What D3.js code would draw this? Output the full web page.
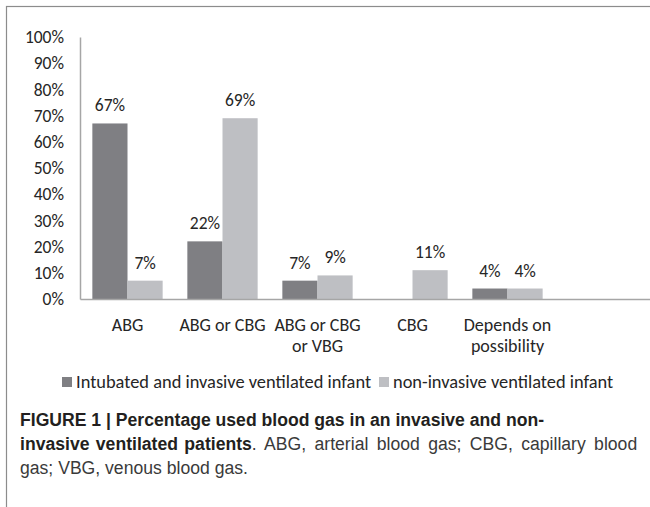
<!DOCTYPE html>
<html><head><meta charset="utf-8">
<script src="https://cdn.jsdelivr.net/npm/d3@7"></script>
<style>
html,body{margin:0;padding:0;background:#fff;}
svg{display:block;}
</style></head>
<body>
<svg id="chart" width="650" height="507"></svg>
<script>
const categories = [["ABG"], ["ABG or CBG"], ["ABG or CBG", "or VBG"], ["CBG"], ["Depends on", "possibility"], [""]];
const seriesNames = ["Intubated and invasive ventilated infant", "non-invasive ventilated infant"];
const intubated = [67, 22, 7, 0, 4, null];
const nonInvasive = [7, 69, 9, 11, 4, null];
const yTicks = [0, 10, 20, 30, 40, 50, 60, 70, 80, 90, 100];
const colors = ["#7f7f83", "#bebfc3"];

const svg = d3.select("#chart");
const chartFont = "Carlito, Lato, 'Open Sans', sans-serif";
const fs = 17.5;

// frame
svg.append("rect").attr("x", 6.5).attr("y", 6.5).attr("width", 700).attr("height", 600)
  .attr("fill", "none").attr("stroke", "#8c8c8c").attr("stroke-width", 1.2);

const x0 = d3.scaleBand().domain(d3.range(categories.length)).range([80, 650]).paddingInner(0.26).paddingOuter(0.13);
const x1 = d3.scaleBand().domain([0, 1]).range([0, x0.bandwidth()]);
const y = d3.scaleLinear().domain([0, 100]).range([299, 37]);

// y tick labels
const yAxis = d3.axisLeft(y).tickValues(yTicks).tickFormat(d => d + "%").tickSize(0).tickPadding(16);
const gy = svg.append("g").attr("transform", "translate(80,0)").call(yAxis);
gy.select(".domain").attr("stroke", "#a6a6a6").attr("stroke-width", 1.5);
gy.selectAll("text").attr("font-family", chartFont).attr("font-size", fs).attr("fill", "#262626");

// bars
const series = [intubated, nonInvasive];
series.forEach((vals, si) => {
  svg.append("g").selectAll("rect").data(vals.map((v, i) => ({v, i})).filter(d => d.v !== null))
    .join("rect")
    .attr("x", d => x0(d.i) + x1(si))
    .attr("width", x1.bandwidth())
    .attr("y", d => y(d.v))
    .attr("height", d => y(0) - y(d.v))
    .attr("fill", colors[si]);
  svg.append("g").selectAll("text").data(vals.map((v, i) => ({v, i})).filter(d => d.v))
    .join("text")
    .attr("x", d => x0(d.i) + x1(si) + x1.bandwidth() / 2)
    .attr("y", d => y(d.v) - 12)
    .attr("text-anchor", "middle")
    .attr("font-family", chartFont).attr("font-size", fs).attr("fill", "#262626")
    .text(d => d.v + "%");
});

// x axis
const xAxis = d3.axisBottom(x0).tickSize(0).tickFormat("");
const gx = svg.append("g").attr("transform", "translate(0,299)").call(xAxis);
gx.select(".domain").attr("stroke", "#a6a6a6").attr("stroke-width", 1.5);

const labels = svg.append("g").selectAll("text").data(categories.map((c, i) => ({c, i}))).join("text")
  .attr("text-anchor", "middle")
  .attr("font-family", chartFont).attr("font-size", 18).attr("fill", "#262626")
  .attr("transform", d => `translate(${x0(d.i) + x0.bandwidth() / 2},331)`);
labels.selectAll("tspan").data(d => d.c).join("tspan")
  .attr("x", 0).attr("dy", (d, k) => k === 0 ? 0 : 21).text(d => d);

// legend
const legendX = [62, 379];
seriesNames.forEach((name, i) => {
  svg.append("rect").attr("x", legendX[i]).attr("y", 377).attr("width", 10).attr("height", 10).attr("fill", colors[i]);
  svg.append("text").attr("x", legendX[i] + 14).attr("y", 388)
    .attr("font-family", chartFont).attr("font-size", 18.4).attr("fill", "#262626").text(name);
});

// caption
const capFont = "'Liberation Sans', Arial, sans-serif";
const cap = svg.append("g").attr("font-family", capFont).attr("font-size", 17.6).attr("fill", "#231f20");
cap.append("text").attr("x", 20).attr("y", 426).attr("font-weight", "bold")
  .text("FIGURE 1 | Percentage used blood gas in an invasive and non-");
const l2 = cap.append("text").attr("x", 20).attr("y", 450);
l2.append("tspan").attr("font-weight", "bold").attr("word-spacing", 1.5).text("invasive ventilated patients");
l2.append("tspan").attr("fill", "#3a3a3a").attr("word-spacing", 3.5).text(". ABG, arterial blood gas; CBG, capillary blood");
cap.append("text").attr("x", 20).attr("y", 474).attr("fill", "#3a3a3a").text("gas; VBG, venous blood gas.");
</script>
</body></html>
